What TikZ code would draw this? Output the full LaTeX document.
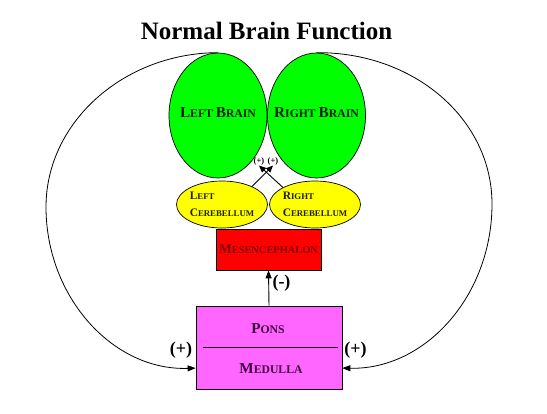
\documentclass[tikz,border=0pt]{standalone}
\usepackage{fontspec}
\setmainfont{Liberation Serif}
\usepackage{graphicx}
\usetikzlibrary{shapes.geometric,arrows.meta}
\definecolor{brgreen}{HTML}{00FF00}
\definecolor{cbyellow}{HTML}{FFFF00}
\definecolor{msred}{HTML}{FF0000}
\definecolor{pnpink}{HTML}{FF66FF}
\definecolor{brdark}{HTML}{002000}
\definecolor{cbdark}{HTML}{202000}
\definecolor{msdark}{HTML}{800000}
\definecolor{pndark}{HTML}{400040}
\newcommand{\capl}[1]{\scalebox{1.3}{#1}}

\begin{document}
\begin{tikzpicture}[x=1pt,y=-1pt,>={Triangle[length=8pt,width=6pt]},
        brain/.style={ellipse,draw,line width=0.7pt,fill=brgreen,minimum width=98pt,minimum height=125pt,inner sep=0pt},
        brtext/.style={inner sep=0pt,text height=9pt,text depth=6pt,text=brdark,font=\fontsize{11.7}{14}\selectfont\bfseries},
        cereb/.style={ellipse,draw,line width=0.7pt,fill=cbyellow,minimum width=91pt,minimum height=47pt,inner sep=0pt},
        cbtext/.style={inner sep=0pt,align=left,text=cbdark,font=\fontsize{8.8}{17}\selectfont\bfseries},
        part/.style={rectangle,draw,line width=0.7pt,inner sep=0pt},
        sign/.style={inner sep=0.5pt,font=\fontsize{18}{18}\selectfont\bfseries},
        tiny sign/.style={inner sep=0.5pt,font=\fontsize{8.5}{8.5}\selectfont\bfseries}]
        \useasboundingbox (0,0) rectangle (547,413);
        \node[anchor=base,font=\fontsize{25}{25}\selectfont\bfseries] (title) at (266.5,39) {Normal Brain Function};
        \node[brain,label={[brtext]center:\capl{L}EFT \capl{B}RAIN}] (lbrain) at (218,115.5) {};
        \node[brain,label={[brtext]center:\capl{R}IGHT \capl{B}RAIN}] (rbrain) at (316.5,115.5) {};
        \node[cereb,label={[cbtext]center:\capl{L}EFT\\\capl{C}EREBELLUM}] (lcereb) at (222,204.5) {};
        \node[cereb,label={[cbtext]center:\capl{R}IGHT\\\capl{C}EREBELLUM}] (rcereb) at (315,204.5) {};
        \node[part,fill=msred,minimum width=105pt,minimum height=41pt,text=msdark,font=\fontsize{10.4}{12}\selectfont\bfseries] (mesen) at (268.5,249.5) {\capl{M}ESENCEPHALON};
        \node[part,fill=pnpink,minimum width=146pt,minimum height=83pt] (pons) at (269,347.5) {};
        \node[anchor=base,text=pndark,font=\fontsize{11.7}{14}\selectfont\bfseries] (ponstext) at (268,333) {\capl{P}ONS};
        \node[anchor=base,text=pndark,font=\fontsize{11.7}{14}\selectfont\bfseries] (medulla) at (271,373) {\capl{M}EDULLA};
        \draw[line width=0.7pt] ([xshift=7pt]pons.west) -- ([xshift=-4pt]pons.east);
        \node[tiny sign] (pl) at (259,161) {(+)};
        \node[tiny sign] (pr) at (273,161) {(+)};
        \draw[->,>={Triangle[length=7pt,width=6pt]},line width=0.9pt] (lcereb.31) -- (pr.south);
        \draw[->,>={Triangle[length=7pt,width=6pt]},line width=0.9pt] (rcereb.152) -- (pl.south);
        \draw[->,line width=0.9pt] (pons.north) -- (mesen.south);
        \node[sign] (minus) at (281.5,283) {(-)};
        \coordinate (lout) at (46,207);
        \coordinate (rout) at (492,204);
        \draw[->,line width=0.8pt] (lbrain.north) .. controls (124,53) and (46,122) .. (lout) .. controls (46,297) and (113,371) .. (pons.west |- medulla);
        \draw[->,line width=0.8pt] (rbrain.north) .. controls (414,52) and (492,119) .. (rout) .. controls (492,296) and (425,370) .. (pons.east |- medulla);
        \node[sign] (lplus) at (181,350) {(+)};
        \node[sign] (rplus) at (355.5,350) {(+)};
\end{tikzpicture}
\end{document}
